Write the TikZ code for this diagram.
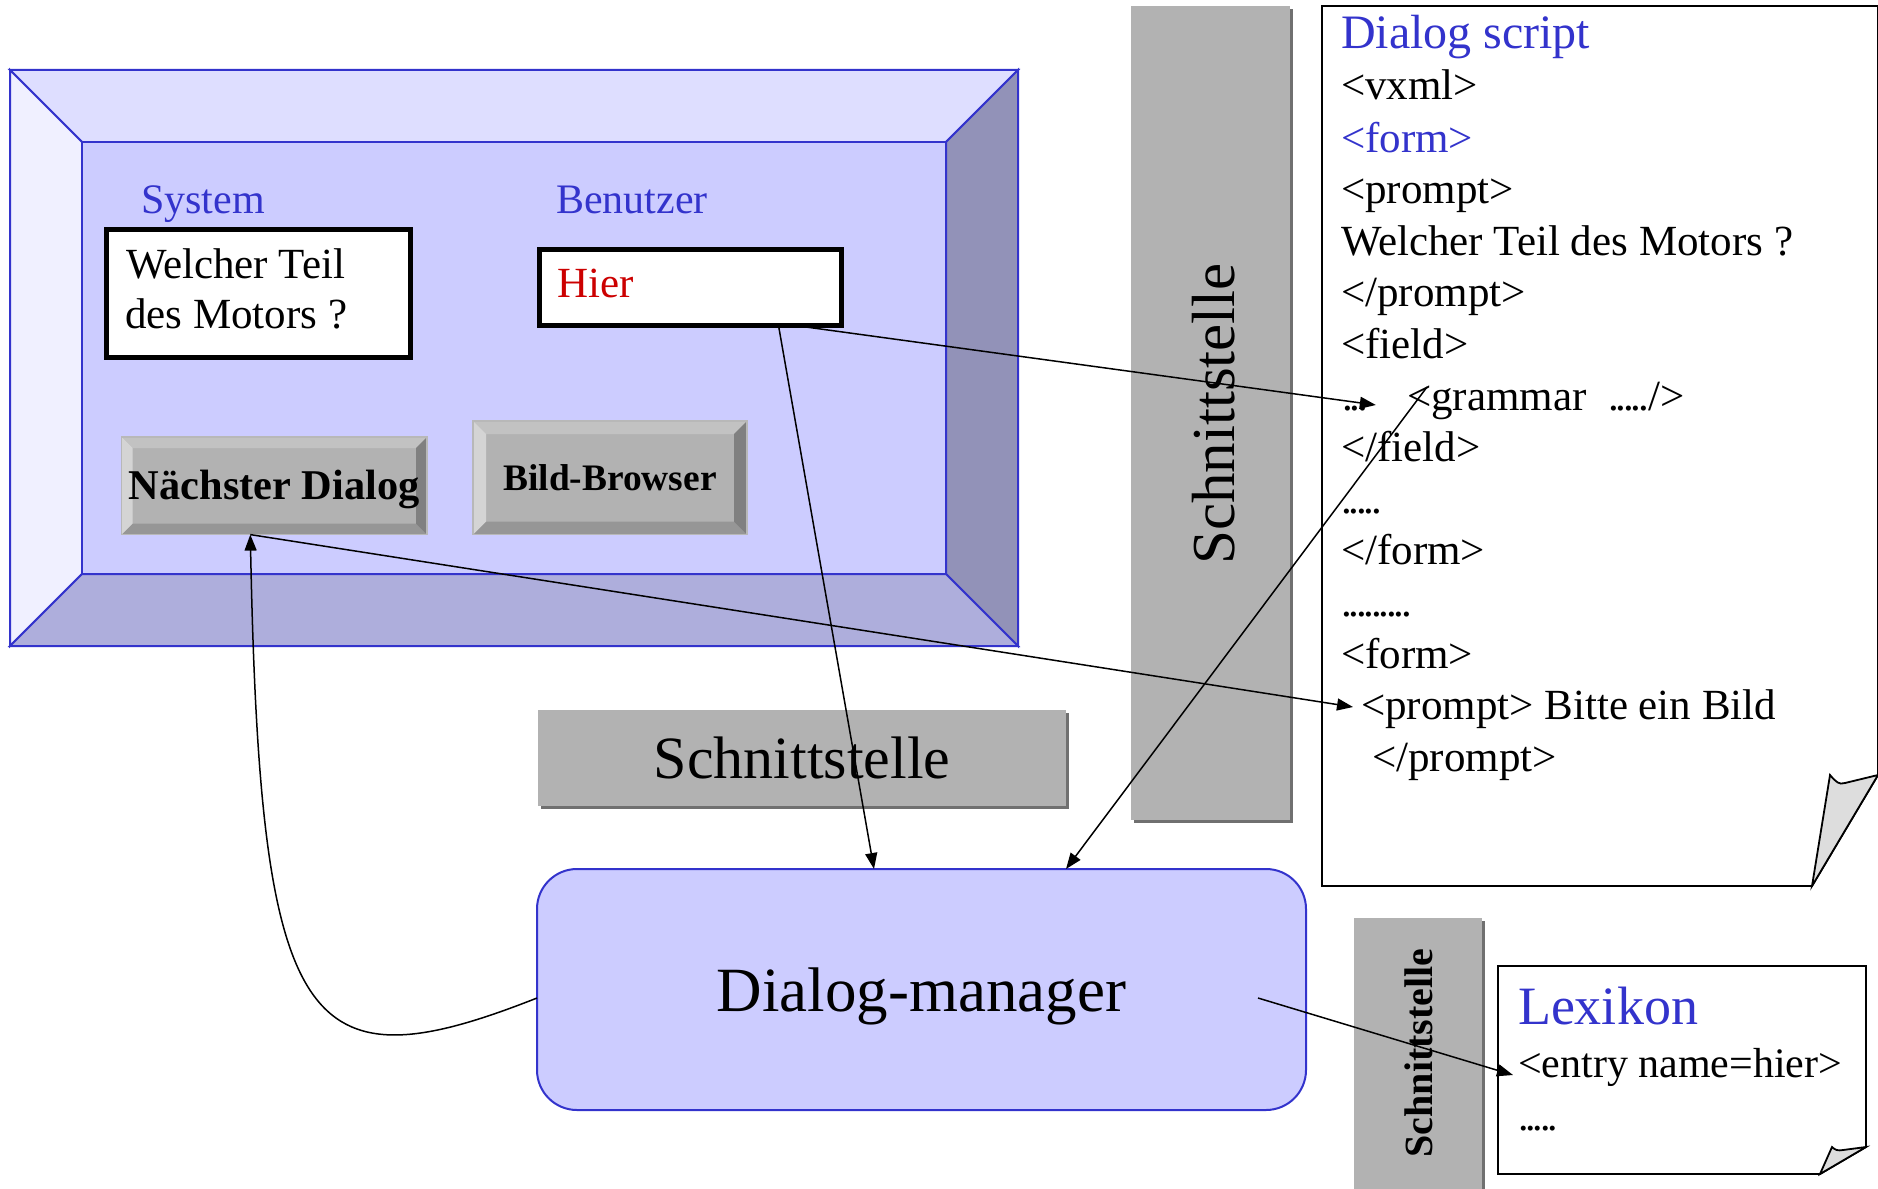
\documentclass[tikz,border=0pt]{standalone}
\usepackage{fontspec}
\setmainfont{Liberation Serif}
\usetikzlibrary{arrows.meta,shadows}

\definecolor{frameBlue}{HTML}{3333CC}
\definecolor{panelFill}{HTML}{CCCCFF}
\definecolor{bevelTop}{HTML}{DEDEFF}
\definecolor{bevelLeft}{HTML}{F0F0FF}
\definecolor{bevelRight}{HTML}{9292B8}
\definecolor{bevelBottom}{HTML}{AEAEDC}
\definecolor{btnFace}{HTML}{B2B2B2}
\definecolor{btnTop}{HTML}{C2C2C2}
\definecolor{btnLeft}{HTML}{D4D4D4}
\definecolor{btnRight}{HTML}{808080}
\definecolor{btnBottom}{HTML}{969696}
\definecolor{btnEdge}{HTML}{B8B8B8}
\definecolor{ifaceGray}{HTML}{B2B2B2}
\definecolor{ifaceShadow}{HTML}{707070}
\definecolor{foldGray}{HTML}{DDDDDD}
\definecolor{hierRed}{HTML}{CC0000}

\newcommand\fs[2]{\fontsize{#1}{#2}\selectfont}
% tighter runs of dots
\newcommand\dotrun[1]{{\addfontfeature{LetterSpace=-7.5}#1}}
% text lowered by a fixed amount, taking no vertical room
\newcommand\lowered[2]{\raisebox{-#1}[0pt][0pt]{#2}}

\tikzset{
  frameline/.style={draw=frameBlue, line width=1pt, line join=miter},
  pageline/.style={draw=black, line width=0.9pt, line join=miter},
  txt/.style={inner sep=0pt, outer sep=0pt, anchor=base west, font=\fs{21.5}{25}},
  ctxt/.style={inner sep=0pt, outer sep=0pt, anchor=base, font=\fs{21}{25}},
  blueTxt/.style={text=frameBlue},
  inbox/.style={draw=black, fill=white, line width=2.5pt, inner sep=0pt, outer sep=0pt},
  bevelbtn/.style={fill=btnFace, draw=btnEdge, line width=0.6pt, inner sep=0pt, outer sep=0pt,
    font=\bfseries,
    path picture={
      \fill[btnTop] (path picture bounding box.north west) -- (path picture bounding box.north east)
        -- ([shift={(-#1,-#1)}]path picture bounding box.north east)
        -- ([shift={(#1,-#1)}]path picture bounding box.north west) -- cycle;
      \fill[btnBottom] (path picture bounding box.south west) -- (path picture bounding box.south east)
        -- ([shift={(-#1,#1)}]path picture bounding box.south east)
        -- ([shift={(#1,#1)}]path picture bounding box.south west) -- cycle;
      \fill[btnLeft] (path picture bounding box.north west) -- ([shift={(#1,-#1)}]path picture bounding box.north west)
        -- ([shift={(#1,#1)}]path picture bounding box.south west) -- (path picture bounding box.south west) -- cycle;
      \fill[btnRight] (path picture bounding box.north east) -- ([shift={(-#1,-#1)}]path picture bounding box.north east)
        -- ([shift={(-#1,#1)}]path picture bounding box.south east) -- (path picture bounding box.south east) -- cycle;
    }},
  iface/.style={fill=ifaceGray, inner sep=0pt, outer sep=0pt,
    drop shadow={shadow xshift=1.5pt, shadow yshift=-1.5pt, fill=ifaceShadow, opacity=1}},
  dmbox/.style={draw=frameBlue, fill=panelFill, line width=1pt, rounded corners=20pt,
    inner sep=0pt, outer sep=0pt, font=\fs{31.5}{36}},
  conn/.style={draw=black, line width=0.75pt, -{Triangle[length=8pt,width=6pt]}}
}

\begin{document}
\begin{tikzpicture}[x=0.5pt, y=-0.5pt]
\useasboundingbox (0,0) rectangle (1878,1188);

% beveled application window
\filldraw[frameline, fill=bevelTop] (10,70) -- (1018,70) -- (946,142) -- (82,142) -- cycle;
\filldraw[frameline, fill=bevelLeft] (10,70) -- (82,142) -- (82,574) -- (10,646) -- cycle;
\filldraw[frameline, fill=bevelRight] (1018,70) -- (1018,646) -- (946,574) -- (946,142) -- cycle;
\filldraw[frameline, fill=bevelBottom] (10,646) -- (1018,646) -- (946,574) -- (82,574) -- cycle;
\filldraw[frameline, fill=panelFill] (82,142) rectangle (946,574);

% window contents
\node[ctxt, blueTxt] (system) at (203,213) {System};
\node[ctxt, blueTxt] (benutzer) at (632,213) {Benutzer};

\node[inbox, minimum width=151.75pt, minimum height=64pt] (question) at (258.25,293.5) {};
\node[txt] (questionA) at (126,278) {Welcher Teil};
\node[txt] (questionB) at (125,328) {des Motors ?};

\node[inbox, minimum width=151pt, minimum height=38pt] (hier) at (690.5,287.5) {};
\node[txt, text=hierRed] (hiertxt) at (557,297) {Hier};

\node[bevelbtn=5.5pt, minimum width=152.75pt, minimum height=48.8pt, font=\bfseries\fs{21.2}{25}]
  (btnNext) at (274.3,485.8) {\lowered{7pt}{Nächster Dialog}};
\node[bevelbtn=6.5pt, minimum width=137pt, minimum height=56.8pt, font=\bfseries\fs{18.7}{22}]
  (btnBild) at (610,477.8) {Bild-Browser};

% interface bars
\node[iface, minimum width=264pt, minimum height=48pt, font=\fs{30}{34}] (schnittH) at (802,758) {Schnittstelle};
\node[iface, minimum width=79.5pt, minimum height=407pt] (schnittV) at (1210.5,413) {};
\node[inner sep=0pt, rotate=90, font=\fs{30.5}{34}] (schnittVlbl) at (1214,414) {Schnittstelle};
\node[iface, minimum width=64pt, minimum height=141pt] (schnittS) at (1418,1059) {};
\node[inner sep=0pt, rotate=90, font=\bfseries\fs{20}{24}] (schnittSlbl) at (1419,1053) {Schnittstelle};

% dialog manager
\node[dmbox, minimum width=384.5pt, minimum height=120.5pt] (dm) at (921.5,989.5) {\lowered{11pt}{Dialog-manager}};

% dialog script page
\filldraw[pageline, fill=white] (1878,6) -- (1322,6) -- (1322,886) -- (1812,886) -- (1878,775) -- cycle;
\filldraw[pageline, fill=foldGray] (1812,886) -- (1830,775) .. controls (1836,782) and (1839,785) .. (1845,783) -- (1878,775) -- cycle;

\node[txt, blueTxt, font=\fs{24}{28}] (ds0) at (1341,49) {Dialog script};
\node[txt] (ds1) at (1341,100) {<vxml>};
\node[txt, blueTxt] (ds2) at (1341,152) {<form>};
\node[txt] (ds3) at (1341,203) {<prompt>};
\node[txt] (ds4) at (1341,255) {Welcher Teil des Motors ?};
\node[txt] (ds5) at (1341,306) {</prompt>};
\node[txt] (ds6) at (1341,358) {<field>};
\node[txt] (ds7a) at (1342,410) {\dotrun{...}};
\node[txt] (ds7b) at (1407,410) {<grammar\ \ \dotrun{.....}/>};
\node[txt] (ds8) at (1341,461) {</field>};
\node[txt] (ds9) at (1341,513) {\dotrun{.....}};
\node[txt] (ds10) at (1341,564) {</form>};
\node[txt] (ds11) at (1341,616) {\dotrun{.........}};
\node[txt] (ds12) at (1341,668) {<form>};
\node[txt] (ds13) at (1361,719) {<prompt> Bitte ein Bild};
\node[txt] (ds14) at (1372,771) {</prompt>};

% lexicon page
\filldraw[pageline, fill=white] (1498,966) -- (1866,966) -- (1866,1147) -- (1820,1174) -- (1498,1174) -- cycle;
\filldraw[pageline, fill=foldGray] (1820,1174) -- (1832,1147) .. controls (1835,1150) and (1838,1151) .. (1843,1150) -- (1866,1147) -- cycle;

\node[txt, blueTxt, font=\fs{27}{31}] (lex0) at (1518,1024) {Lexikon};
\node[txt, font=\fs{21}{25}] (lex1) at (1518,1077) {<entry name=hier>};
\node[txt, font=\fs{21}{25}] (lex2) at (1518,1130) {\dotrun{.....}};

% connectors
\draw[conn] ([xshift=44pt]hier.south) -- ([xshift=-23.75pt]dm.north);
\draw[conn] ([xshift=52.25pt]hier.south) -- ([shift={(4pt,2.5pt)}]ds7a.base east);
\draw[conn] ([shift={(10pt,11.5pt)}]ds7b.base west) -- ([xshift=72.25pt]dm.north);
\draw[conn] ([xshift=-12pt]btnNext.south) -- ([shift={(-4pt,6pt)}]ds13.base west);
\draw[conn] ([yshift=-4.25pt]dm.west) .. controls +(-233,92) and +(10,500) .. ([xshift=-12pt]btnNext.south);
\draw[conn] ([shift={(168.25pt,-4.25pt)}]dm.center) -- ([shift={(-2.5pt,1pt)}]lex1.base west);
\end{tikzpicture}
\end{document}
